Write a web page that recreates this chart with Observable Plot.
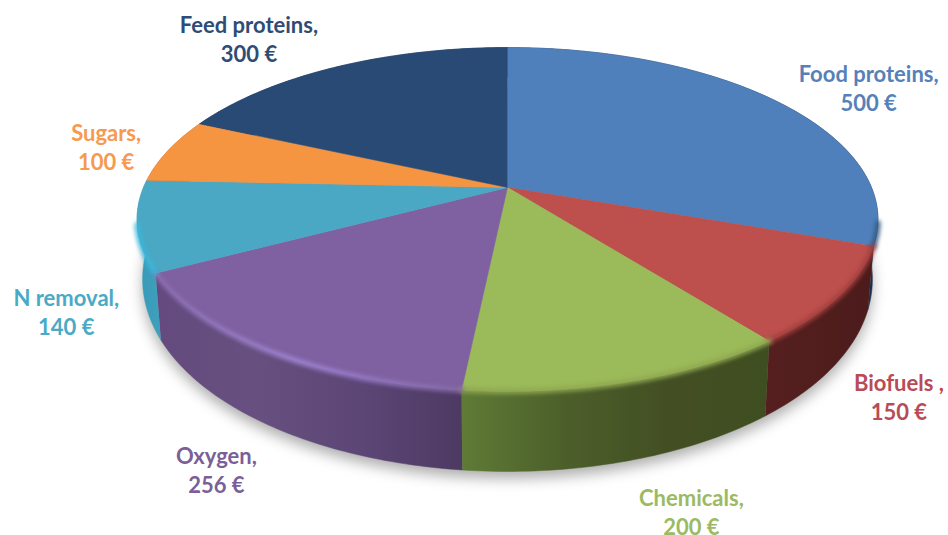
<!DOCTYPE html>
<html>
<head>
<meta charset="utf-8">
<script src="https://cdn.jsdelivr.net/npm/d3@7"></script>
<script src="https://cdn.jsdelivr.net/npm/@observablehq/plot@0.6"></script>
<style>
  html, body { margin: 0; padding: 0; background: #fff; }
  svg { display: block; }
</style>
</head>
<body>
<div id="chart"></div>
<script>
// Value of each product stream, clockwise from twelve o'clock
const categories = ["Food proteins", "Biofuels", "Chemicals", "Oxygen", "N removal", "Sugars", "Feed proteins"];
const values = [500, 150, 200, 256, 140, 100, 300];
const labelNames = ["Food proteins,", "Biofuels ,", "Chemicals,", "Oxygen,", "N removal,", "Sugars,", "Feed proteins,"];

const topColors = ["#4f80bc", "#bd4f4c", "#9bba59", "#7f60a0", "#4aa8c4", "#f59441", "#294a75"];
const textColors = ["#5681b8", "#b94b56", "#9bba62", "#7a5f98", "#4aaac6", "#f59a50", "#2f4c76"];
const rimColors = ["#34597f", "#a03f3d", "#8ea650", "#a085d4", "#3cb6da", "#f59441", "#294a75"];
const wallStops = [
  ["#1f3a5c", "#1a2f4a"],
  ["#561f1f", "#4c1b1b"],
  ["#5f7b35", "#4c5f2a", "#434f23", "#3f4e20"],
  ["#644a7e", "#67507f", "#5c4676", "#4d3a62"],
  ["#379ab8", "#3fa0bc"],
  ["#c47430", "#c47430"],
  ["#1d3757", "#1d3757"]
];

// Where each label sits relative to the rim at its slice's mid-angle
const labelShift = [[93, -14], [60, 100], [62, 129], [-51, 119], [-71, 85], [-62, -4], [-88, -29]];

// Perspective view of the disc: unit circle -> page position
const centre = {x: 507, y: 187};
const view = {a: 364, b: 166, k: 0.186};
function project(theta) {
  const u = Math.sin(theta), v = Math.cos(theta), d = 1 + view.k * v;
  return {x: centre.x + view.a * u / d, y: centre.y - view.b * v / d, v};
}
// Matching point on the lower edge of the disc
function lower(theta) {
  const p = project(theta);
  return {x: centre.x + 0.985 * (p.x - centre.x), y: p.y + 55 - 25 * p.v};
}

const total = d3.sum(values);
const cumulative = d3.cumsum(values);
const slices = categories.map((name, i) => ({
  name, i, value: values[i],
  start: ((cumulative[i] - values[i]) / total) * 2 * Math.PI,
  end: (cumulative[i] / total) * 2 * Math.PI
}));
const sweep = (s) => {
  const n = Math.max(8, Math.ceil((s.end - s.start) * 60));
  return d3.range(n + 1).map((j) => s.start + (s.end - s.start) * j / n);
};

const faces = slices.flatMap((s) => [
  {slice: s.name, ...centre},
  ...sweep(s).map((t) => ({slice: s.name, ...project(t)}))
]);
const wallOf = (s) => {
  const ts = sweep(s);
  return [...ts.map((t) => project(t)), ...ts.slice().reverse().map((t) => lower(t))];
};
const rimOf = (s) => sweep(s).map((t) => project(t)).filter((p) => p.v < -0.2);
const floor = d3.range(181).map((j) => lower(j / 180 * 2 * Math.PI));
const labels = slices.map((s) => {
  const rim = project((s.start + s.end) / 2);
  return {
    text: `${labelNames[s.i]}\n${s.value} €`,
    x: rim.x + labelShift[s.i][0],
    y: rim.y + labelShift[s.i][1],
    color: textColors[s.i]
  };
});

// Horizontal shading for the side walls and the soft highlight on the purple edge
const gradients = () => {
  const defs = d3.create("svg:defs");
  slices.forEach((s) => {
    const pts = wallOf(s), xs = pts.map((p) => p.x);
    const g = defs.append("linearGradient").attr("id", `wall${s.i}`)
      .attr("gradientUnits", "userSpaceOnUse")
      .attr("x1", d3.min(xs)).attr("x2", d3.max(xs)).attr("y1", 0).attr("y2", 0);
    wallStops[s.i].forEach((c, j, a) =>
      g.append("stop").attr("offset", j / (a.length - 1)).attr("stop-color", c));
  });
  const rim = defs.append("linearGradient").attr("id", "rimGlow")
    .attr("gradientUnits", "userSpaceOnUse")
    .attr("x1", 155).attr("x2", 465).attr("y1", 0).attr("y2", 0);
  [[0, "#8a6db0"], [0.45, rimColors[3]], [0.7, "#9478c4"], [1, "#846aa6"]].forEach(([o, c]) =>
    rim.append("stop").attr("offset", o).attr("stop-color", c));
  return defs.node();
};

const chart = Plot.plot({
  width: 948,
  height: 535,
  margin: 0,
  x: {domain: [0, 948], range: [0, 948], axis: null},
  y: {domain: [0, 535], range: [0, 535], axis: null},
  color: {domain: categories, range: topColors},
  marks: [
    gradients,
    // drop shadow beneath the disc
    Plot.line(floor, {
      x: (d) => d.x, y: (d) => d.y + 7,
      fill: "#000", fillOpacity: 0.32, stroke: "none",
      imageFilter: "blur(7px)"
    }),
    // side walls
    ...slices.map((s) => Plot.line(wallOf(s), {
      x: "x", y: "y",
      fill: `url(#wall${s.i})`, stroke: `url(#wall${s.i})`, strokeWidth: 0.5
    })),
    // top faces
    Plot.line(faces, {x: "x", y: "y", z: "slice", fill: "slice", stroke: "slice", strokeWidth: 0.5}),
    // bevel along the front edge
    ...slices.filter((s) => rimOf(s).length > 1).map((s) => Plot.line(rimOf(s), {
      x: "x", y: "y",
      stroke: s.i === 3 ? "url(#rimGlow)" : rimColors[s.i],
      strokeWidth: 5,
      imageFilter: "blur(2px)"
    })),
    // labels
    Plot.text(labels, {
      x: "x", y: "y", text: "text", fill: "color",
      fontFamily: "Lato", fontWeight: "bold", fontSize: 22, lineHeight: 1.32,
      textAnchor: "middle"
    })
  ]
});
document.getElementById("chart").append(chart);
</script>
</body>
</html>
